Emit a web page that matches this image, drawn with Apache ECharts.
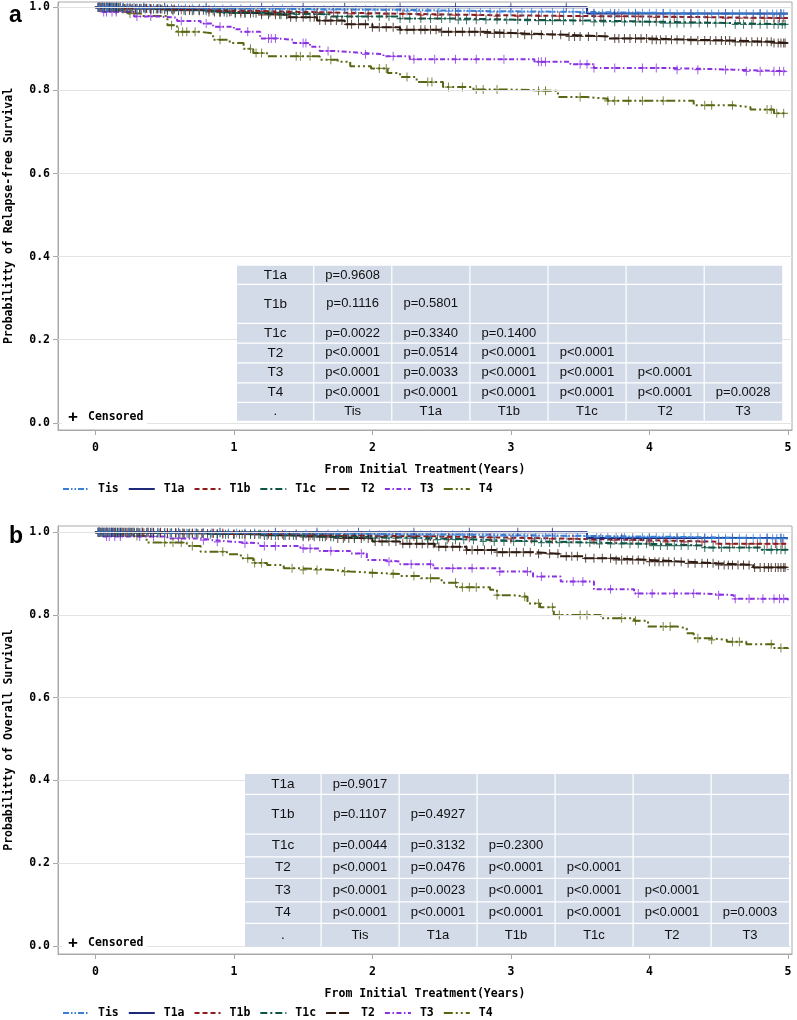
<!DOCTYPE html>
<html><head><meta charset="utf-8">
<script src="https://cdn.jsdelivr.net/npm/echarts@6/dist/echarts.min.js"></script>
<style>html,body{margin:0;padding:0;background:#fff}#c{width:797px;height:1020px}</style>
</head><body><div id="c"></div>
<script>
// ---------- data ----------
const groups = ['Tis','T1a','T1b','T1c','T2','T3','T4'];
const xTicks = [0,1,2,3,4,5];
const yTicks = [0,0.2,0.4,0.6,0.8,1.0];
const xTitle = 'From Initial Treatment(Years)';
const yTitleA = 'Probabilitty of Relapse-free Survival';
const yTitleB = 'Probabilitty of Overall Survival';

// Panel a: relapse-free survival (step times / survival)
const rfsTisT = [0,0.3,0.8,1.5,2.2,2.8,3.5,4.2,5.0];
const rfsTisS = [1,0.998,0.996,0.994,0.991,0.989,0.986,0.984,0.983];
const rfsT1aT = [0,3.55,5.0];
const rfsT1aS = [1,0.985,0.985];
const rfsT1bT = [0,0.2,0.5,0.9,1.3,1.8,2.3,2.9,3.5,4.0,4.5,5.0];
const rfsT1bS = [1,0.997,0.994,0.99,0.987,0.984,0.981,0.979,0.978,0.976,0.974,0.973];
const rfsT1cT = [0,0.2,0.5,0.9,1.3,1.7,2.2,2.6,3.1,3.6,4.1,4.6,5.0];
const rfsT1cS = [1,0.996,0.992,0.987,0.983,0.978,0.973,0.970,0.968,0.965,0.962,0.959,0.957];
const rfsT2T = [0,0.2,0.4,0.6,0.8,1.0,1.2,1.4,1.6,1.8,2.0,2.2,2.5,2.8,3.1,3.4,3.7,4.0,4.3,4.6,4.9,5.0];
const rfsT2S = [1,0.998,0.996,0.993,0.989,0.986,0.982,0.976,0.968,0.959,0.952,0.946,0.941,0.937,0.934,0.930,0.925,0.922,0.920,0.917,0.914,0.914];
const rfsT3T = [0,0.05,0.28,0.45,0.59,0.76,0.85,1.0,1.05,1.19,1.31,1.43,1.55,1.62,1.72,1.89,2.08,2.27,3.17,3.43,3.6,4.13,4.61,5.0];
const rfsT3S = [1,0.989,0.978,0.975,0.967,0.961,0.953,0.947,0.941,0.925,0.922,0.914,0.905,0.895,0.891,0.887,0.882,0.875,0.869,0.863,0.854,0.850,0.846,0.846];
const rfsT4T = [0,0.1,0.23,0.33,0.52,0.59,0.76,0.85,0.97,1.07,1.14,1.24,1.62,1.75,1.84,1.99,2.11,2.2,2.32,2.51,2.73,3.0,3.34,3.55,3.7,4.32,4.61,4.73,4.9,5.0];
const rfsT4S = [1,0.993,0.985,0.979,0.957,0.941,0.937,0.922,0.914,0.90,0.89,0.882,0.874,0.869,0.858,0.853,0.842,0.832,0.82,0.808,0.802,0.799,0.784,0.78,0.775,0.764,0.76,0.754,0.745,0.745];

// Panel a censored times
const rfsTisC = [0.02,0.03,0.05,0.06,0.08,0.09,0.11,0.12,0.14,0.16,0.18,0.2,0.23,0.25,0.28,0.3,0.33,0.36,0.39,0.42,0.46,0.5,0.55,0.6,0.65,0.7,0.75,0.8,0.86,0.92,0.98,1.05,1.12,1.2,1.28,1.35,1.42,1.5,1.58,1.65,1.72,1.8,1.88,1.95,2.02,2.1,2.18,2.25,2.32,2.4,2.48,2.55,2.62,2.7,2.78,2.85,2.92,3.0,3.08,3.15,3.22,3.3,3.38,3.45,3.52,3.6,3.66,3.72,3.78,3.85,3.9,3.95,4.0,4.05,4.1,4.15,4.2,4.25,4.3,4.35,4.4,4.45,4.5,4.55,4.6,4.65,4.7,4.75,4.8,4.85,4.89,4.92,4.95,4.97];
const rfsT1aC = [0.03,0.05,0.08,0.1,0.15,0.2,0.35,0.5,0.8,1.2,1.5,1.8,2.2,2.6,3.0,3.4,3.6,3.75,3.9,4.1,4.3,4.55,4.8,4.95];
const rfsT1bC = [0.02,0.04,0.06,0.08,0.1,0.12,0.15,0.18,0.21,0.25,0.29,0.33,0.37,0.4,0.45,0.5,0.56,0.62,0.68,0.75,0.82,0.9,0.98,1.05,1.12,1.2,1.3,1.4,1.5,1.6,1.72,1.85,1.97,2.1,2.22,2.35,2.47,2.6,2.75,2.9,3.05,3.2,3.35,3.5,3.65,3.8,3.92,4.05,4.18,4.3,4.42,4.55,4.65,4.75,4.83,4.9,4.94,4.97];
const rfsT1cC = [0.02,0.03,0.05,0.07,0.09,0.11,0.13,0.15,0.17,0.2,0.23,0.26,0.29,0.32,0.36,0.4,0.44,0.48,0.52,0.56,0.6,0.65,0.7,0.75,0.8,0.85,0.9,0.95,1.01,1.08,1.14,1.2,1.26,1.33,1.39,1.45,1.52,1.6,1.67,1.75,1.82,1.9,1.97,2.05,2.12,2.2,2.27,2.35,2.42,2.5,2.56,2.62,2.68,2.75,2.82,2.9,2.97,3.05,3.12,3.2,3.25,3.3,3.38,3.45,3.52,3.6,3.67,3.75,3.82,3.9,3.95,4.0,4.05,4.1,4.15,4.2,4.25,4.3,4.36,4.42,4.48,4.55,4.62,4.68,4.74,4.8,4.85,4.9,4.93,4.96,4.98];
const rfsT2C = [0.02,0.03,0.04,0.05,0.065,0.08,0.09,0.1,0.11,0.12,0.135,0.15,0.165,0.18,0.2,0.22,0.235,0.25,0.27,0.3,0.32,0.35,0.37,0.4,0.42,0.45,0.47,0.5,0.52,0.55,0.57,0.6,0.64,0.68,0.71,0.75,0.78,0.82,0.86,0.9,0.93,0.97,1.01,1.05,1.08,1.12,1.16,1.2,1.25,1.3,1.34,1.38,1.41,1.45,1.5,1.55,1.58,1.62,1.66,1.7,1.74,1.78,1.82,1.85,1.9,1.95,2.0,2.05,2.1,2.15,2.2,2.25,2.3,2.35,2.38,2.42,2.46,2.5,2.55,2.6,2.65,2.7,2.74,2.78,2.83,2.88,2.92,2.95,3.0,3.05,3.1,3.15,3.22,3.3,3.36,3.42,3.46,3.5,3.56,3.62,3.68,3.75,3.78,3.82,3.86,3.9,3.94,3.98,4.02,4.05,4.08,4.12,4.16,4.2,4.25,4.3,4.35,4.4,4.44,4.48,4.52,4.55,4.58,4.62,4.66,4.7,4.74,4.78,4.81,4.85,4.88,4.9,4.93,4.95,4.97,4.98];
const rfsT3C = [0.06,0.08,0.12,0.15,0.3,0.4,0.62,0.8,0.9,1.1,1.25,1.27,1.3,1.5,1.52,1.68,1.95,2.15,2.3,2.45,2.6,2.75,2.95,3.2,3.22,3.25,3.5,3.55,3.6,3.75,3.95,4.05,4.2,4.35,4.55,4.7,4.8,4.9,4.94,4.97];
const rfsT4C = [0.15,0.25,0.55,0.6,0.63,0.66,0.72,0.9,1.12,1.16,1.2,1.45,1.48,1.55,1.7,2.05,2.1,2.25,2.4,2.43,2.55,2.65,2.75,2.8,2.9,3.2,3.25,3.5,3.7,3.75,3.85,3.95,4.1,4.4,4.45,4.6,4.85,4.88,4.92,4.97];

// Panel b: overall survival
const osTisT = [0,0.5,1.2,2.0,2.8,3.6,4.4,5.0];
const osTisS = [1,0.998,0.996,0.994,0.991,0.988,0.985,0.984];
const osT1aT = [0,3.55,5.0];
const osT1aS = [1,0.986,0.986];
const osT1bT = [0,0.5,1.0,1.5,2.0,2.5,3.0,3.5,4.0,4.5,5.0];
const osT1bS = [1,0.998,0.995,0.992,0.99,0.987,0.984,0.981,0.977,0.972,0.969];
const osT1cT = [0,0.4,0.8,1.2,1.6,2.0,2.4,2.8,3.2,3.6,4.0,4.4,4.8,5.0];
const osT1cS = [1,0.998,0.995,0.992,0.989,0.986,0.982,0.978,0.975,0.972,0.968,0.963,0.958,0.957];
const osT2T = [0,0.3,0.6,0.9,1.2,1.5,1.72,2.0,2.2,2.45,2.68,2.9,3.16,3.35,3.53,3.75,4.0,4.25,4.49,4.75,5.0];
const osT2S = [1,0.999,0.997,0.995,0.992,0.989,0.985,0.978,0.972,0.965,0.957,0.952,0.948,0.942,0.937,0.933,0.929,0.925,0.921,0.915,0.910];
const osT3T = [0,0.05,0.52,0.76,0.85,1.0,1.19,1.48,1.62,1.84,1.96,2.08,2.2,2.44,2.92,3.16,3.36,3.6,3.89,4.37,4.61,5.0];
const osT3S = [1,0.99,0.985,0.981,0.977,0.973,0.967,0.961,0.955,0.949,0.933,0.929,0.923,0.913,0.905,0.893,0.881,0.862,0.852,0.848,0.839,0.835];
const osT4T = [0,0.1,0.23,0.37,0.66,0.76,0.95,1.05,1.14,1.24,1.36,1.48,1.72,1.84,2.08,2.2,2.35,2.5,2.61,2.85,2.9,3.02,3.12,3.21,3.31,3.65,3.89,3.99,4.2,4.27,4.32,4.44,4.56,4.7,4.9,5.0];
const osT4S = [1,0.995,0.991,0.975,0.967,0.953,0.947,0.937,0.926,0.921,0.913,0.909,0.905,0.901,0.899,0.894,0.889,0.878,0.867,0.861,0.848,0.844,0.828,0.819,0.80,0.792,0.786,0.772,0.768,0.756,0.744,0.74,0.735,0.729,0.72,0.718];

// Panel b censored times
const osTisC = [0.02,0.03,0.05,0.07,0.08,0.1,0.11,0.13,0.15,0.17,0.19,0.21,0.24,0.27,0.3,0.33,0.37,0.41,0.45,0.5,0.55,0.6,0.66,0.72,0.78,0.84,0.9,0.96,1.02,1.08,1.15,1.22,1.3,1.37,1.45,1.52,1.6,1.68,1.75,1.82,1.9,1.98,2.05,2.12,2.2,2.28,2.35,2.42,2.5,2.58,2.65,2.72,2.8,2.88,2.95,3.02,3.1,3.18,3.25,3.32,3.4,3.48,3.55,3.62,3.7,3.76,3.82,3.88,3.95,4.0,4.05,4.1,4.15,4.2,4.25,4.3,4.35,4.4,4.45,4.5,4.55,4.6,4.65,4.7,4.75,4.8,4.85,4.89,4.92,4.95,4.97];
const osT1aC = [0.03,0.05,0.08,0.12,0.18,0.25,0.4,0.6,0.9,1.3,1.6,1.9,2.3,2.7,3.05,3.3,3.65,3.8,4.0,4.2,4.4,4.6,4.85,4.95];
const osT1bC = [0.02,0.03,0.05,0.07,0.09,0.12,0.14,0.17,0.2,0.23,0.27,0.3,0.34,0.38,0.42,0.47,0.52,0.58,0.64,0.7,0.77,0.85,0.92,1.0,1.08,1.15,1.25,1.35,1.45,1.55,1.67,1.8,1.92,2.05,2.17,2.3,2.42,2.55,2.7,2.85,3.0,3.15,3.3,3.45,3.6,3.75,3.88,4.0,4.12,4.25,4.38,4.5,4.6,4.7,4.78,4.85,4.91,4.96];
const osT1cC = [0.02,0.03,0.04,0.06,0.08,0.1,0.12,0.14,0.16,0.19,0.22,0.25,0.28,0.31,0.34,0.38,0.42,0.46,0.5,0.54,0.58,0.63,0.68,0.73,0.78,0.83,0.88,0.94,1.0,1.06,1.12,1.18,1.24,1.3,1.37,1.43,1.5,1.57,1.64,1.72,1.8,1.87,1.94,2.02,2.1,2.17,2.25,2.32,2.4,2.47,2.54,2.6,2.66,2.73,2.8,2.88,2.95,3.02,3.1,3.17,3.22,3.28,3.35,3.42,3.5,3.57,3.64,3.72,3.8,3.86,3.92,3.98,4.03,4.08,4.13,4.18,4.23,4.28,4.34,4.4,4.46,4.52,4.58,4.65,4.72,4.78,4.83,4.88,4.92,4.95,4.98];
const osT2C = [0.02,0.03,0.04,0.055,0.07,0.085,0.1,0.115,0.13,0.145,0.16,0.18,0.2,0.22,0.24,0.26,0.28,0.3,0.32,0.35,0.37,0.4,0.42,0.45,0.47,0.5,0.52,0.55,0.58,0.61,0.64,0.67,0.7,0.74,0.77,0.81,0.85,0.88,0.92,0.96,1.0,1.04,1.08,1.12,1.15,1.19,1.22,1.27,1.32,1.36,1.4,1.45,1.5,1.54,1.58,1.62,1.66,1.7,1.75,1.79,1.83,1.87,1.92,1.97,2.02,2.07,2.12,2.17,2.22,2.27,2.32,2.36,2.4,2.44,2.48,2.53,2.58,2.63,2.68,2.72,2.76,2.81,2.86,2.9,2.94,2.99,3.04,3.09,3.14,3.2,3.28,3.34,3.4,3.44,3.48,3.54,3.6,3.66,3.72,3.76,3.8,3.84,3.88,3.92,3.96,4.0,4.04,4.07,4.1,4.14,4.18,4.23,4.28,4.33,4.38,4.42,4.46,4.5,4.54,4.57,4.6,4.64,4.68,4.72,4.76,4.8,4.83,4.86,4.88,4.91,4.93,4.95,4.97,4.98];
const osT3C = [0.08,0.1,0.14,0.18,0.32,0.42,0.6,0.78,0.88,1.08,1.22,1.3,1.5,1.55,1.7,1.92,2.12,2.28,2.42,2.58,2.72,2.92,3.12,3.22,3.45,3.52,3.72,3.92,4.02,4.18,4.32,4.5,4.62,4.72,4.82,4.9,4.94,4.97];
const osT4C = [0.18,0.3,0.5,0.56,0.62,0.7,0.92,1.1,1.15,1.2,1.42,1.5,1.6,1.8,2.0,2.15,2.3,2.42,2.6,2.65,2.7,2.75,2.9,3.1,3.2,3.3,3.35,3.5,3.55,3.8,3.9,4.1,4.15,4.35,4.45,4.6,4.65,4.88,4.95];

// pairwise log-rank p-value tables
const tableRows = ['T1a','T1b','T1c','T2','T3','T4','.'];
const tableCols = ['Tis','T1a','T1b','T1c','T2','T3'];
const pA_T1a = ['p=0.9608'];
const pA_T1b = ['p=0.1116','p=0.5801'];
const pA_T1c = ['p=0.0022','p=0.3340','p=0.1400'];
const pA_T2  = ['p<0.0001','p=0.0514','p<0.0001','p<0.0001'];
const pA_T3  = ['p<0.0001','p=0.0033','p<0.0001','p<0.0001','p<0.0001'];
const pA_T4  = ['p<0.0001','p<0.0001','p<0.0001','p<0.0001','p<0.0001','p=0.0028'];
const pB_T1a = ['p=0.9017'];
const pB_T1b = ['p=0.1107','p=0.4927'];
const pB_T1c = ['p=0.0044','p=0.3132','p=0.2300'];
const pB_T2  = ['p<0.0001','p=0.0476','p<0.0001','p<0.0001'];
const pB_T3  = ['p<0.0001','p=0.0023','p<0.0001','p<0.0001','p<0.0001'];
const pB_T4  = ['p<0.0001','p<0.0001','p<0.0001','p<0.0001','p<0.0001','p=0.0003'];

// ---------- styling ----------
const colors = {Tis:'#3a7fd6',T1a:'#1c2a78',T1b:'#8e1c1c',T1c:'#0e5444',T2:'#2e1a10',T3:'#8a32e0',T4:'#5a6612'};
const dashes = {Tis:[6,2,1.5,2,1.5,2],T1a:'solid',T1b:[5,3],T1c:[7,3,2,3],T2:[10,3],T3:[5,2.5,1.5,2.5],T4:[9,3,2,3,2,3]};
const MONO = '"DejaVu Sans Mono", monospace';
const SANS = '"Liberation Sans", Arial, sans-serif';
const FW = 'bold';
const PLUS = 'path://M-0.14,-1H0.14V-0.14H1V0.14H0.14V1H-0.14V0.14H-1V-0.14H-0.14Z';

function stepAt(ts, ss, t){ let v = ss[0]; for (let i=0;i<ts.length;i++){ if (ts[i] <= t) v = ss[i]; else break; } return v; }

const panels = [
  {curves:{Tis:[rfsTisT,rfsTisS],T1a:[rfsT1aT,rfsT1aS],T1b:[rfsT1bT,rfsT1bS],T1c:[rfsT1cT,rfsT1cS],T2:[rfsT2T,rfsT2S],T3:[rfsT3T,rfsT3S],T4:[rfsT4T,rfsT4S]},
   cens:{Tis:rfsTisC,T1a:rfsT1aC,T1b:rfsT1bC,T1c:rfsT1cC,T2:rfsT2C,T3:rfsT3C,T4:rfsT4C},
   p:[pA_T1a,pA_T1b,pA_T1c,pA_T2,pA_T3,pA_T4], yTitle:yTitleA,
   top:2, height:428, ymin:-0.0173, ymax:1.0128, letter:'a', letterY:4,
   tblX:237, tblW0:76.6, tblW:78.1, rowsY:[265.7,284.3,323.3,343,362.7,382.7,402.3,420.7], censY:408, legTop:483},
  {curves:{Tis:[osTisT,osTisS],T1a:[osT1aT,osT1aS],T1b:[osT1bT,osT1bS],T1c:[osT1cT,osT1cS],T2:[osT2T,osT2S],T3:[osT3T,osT3S],T4:[osT4T,osT4S]},
   cens:{Tis:osTisC,T1a:osT1aC,T1b:osT1bC,T1c:osT1cC,T2:osT2C,T3:osT3C,T4:osT4C},
   p:[pB_T1a,pB_T1b,pB_T1c,pB_T2,pB_T3,pB_T4], yTitle:yTitleB,
   top:526, height:428, ymin:-0.0198, ymax:1.0152, letter:'b', letterY:525,
   tblX:245, tblW0:76, tblW:78, rowsY:[774,794.3,834,856.7,878.3,901.7,923.3,946.7], censY:934, legTop:1007}
];

const grids=[], xAxes=[], yAxes=[], series=[], legends=[], graphics=[];
panels.forEach((P, gi) => {
  grids.push({left:58, top:P.top, width:734, height:P.height, show:true, borderColor:'#a8a8a8', borderWidth:1, containLabel:false, outerBoundsMode:'none'});
  xAxes.push({type:'value', gridIndex:gi, min:-0.27, max:5.03,
    name:xTitle, nameLocation:'middle', nameGap:34, nameTextStyle:{fontFamily:MONO, fontSize:11.5, fontWeight:FW, color:'#000'},
    axisLine:{show:true, onZero:false, lineStyle:{color:'#a8a8a8'}},
    axisTick:{show:true, length:5, customValues:xTicks, lineStyle:{color:'#a8a8a8'}},
    axisLabel:{customValues:xTicks, margin:12, fontFamily:MONO, fontSize:11.5, fontWeight:FW, color:'#000'},
    splitLine:{show:false}});
  yAxes.push({type:'value', gridIndex:gi, min:P.ymin, max:P.ymax,
    name:P.yTitle, nameLocation:'middle', nameGap:43, nameTextStyle:{fontFamily:MONO, fontSize:11.5, fontWeight:FW, color:'#000'},
    axisLine:{show:true, onZero:false, lineStyle:{color:'#a8a8a8'}},
    axisTick:{show:true, length:5, customValues:yTicks, lineStyle:{color:'#a8a8a8'}},
    axisLabel:{customValues:yTicks, margin:8, formatter:v=>v.toFixed(1), fontFamily:MONO, fontSize:11.5, fontWeight:FW, color:'#000'},
    splitLine:{show:false}});
  // reference grid lines at the y ticks
  series.push({type:'line', name:'grid'+gi, xAxisIndex:gi, yAxisIndex:gi, data:[[0,1]], symbol:'none', lineStyle:{opacity:0}, silent:true, z:1,
    markLine:{silent:true, symbol:['none','none'], label:{show:false}, animation:false,
      lineStyle:{color:'#e3e3e3', type:'solid', width:1}, data:yTicks.map(v=>({yAxis:v}))}});
  groups.slice().reverse().forEach(g => {
    const [ts, ss] = P.curves[g];
    series.push({name:g, type:'line', step:'end', xAxisIndex:gi, yAxisIndex:gi,
      data:ts.map((t,i)=>[t, ss[i]]), symbol:'none', z:3,
      lineStyle:{color:colors[g], width:2, type:dashes[g]}, itemStyle:{color:colors[g]}});
    series.push({name:g+' censored', type:'scatter', xAxisIndex:gi, yAxisIndex:gi,
      data:P.cens[g].map(t=>[t, stepAt(ts, ss, t)]), symbol:PLUS, symbolSize:[7,9], z:4,
      itemStyle:{color:colors[g]}});
  });
  legends.push({data:groups, left:62, top:P.legTop, padding:0, itemWidth:26, itemHeight:10, itemGap:9,
    itemStyle:{opacity:0},
    textStyle:{fontFamily:MONO, fontSize:11.5, fontWeight:FW, color:'#000', padding:[0,0,0,4]}, selectedMode:false});
  // panel letter
  graphics.push({type:'text', left:9, top:P.letterY, z:100, style:{text:P.letter, font:'bold 23px '+SANS, fill:'#000'}});
  // censored legend box
  graphics.push({type:'rect', shape:{x:62, y:P.censY, width:85, height:18}, z:90, style:{fill:'#fff'}});
  graphics.push({type:'text', x:68, y:P.censY+9, z:100, style:{text:'+', font:'bold 17px '+SANS, fill:'#000', verticalAlign:'middle'}});
  graphics.push({type:'text', x:88, y:P.censY+9, z:100, style:{text:'Censored', font:FW+' 11.5px '+MONO, fill:'#000', verticalAlign:'middle'}});
  // p-value table
  const x0 = P.tblX, ry = P.rowsY;
  const colX = [x0, x0+P.tblW0]; for (let c=1;c<7;c++) colX.push(colX[c]+P.tblW);
  graphics.push({type:'rect', shape:{x:x0, y:ry[0], width:colX[7]-x0, height:ry[7]-ry[0]}, z:95, style:{fill:'#d3dae8'}});
  for (let r=1;r<7;r++) graphics.push({type:'rect', shape:{x:x0, y:ry[r]-0.5, width:colX[7]-x0, height:1.2}, z:96, style:{fill:'#fff'}});
  for (let c=1;c<7;c++) graphics.push({type:'rect', shape:{x:colX[c]-0.5, y:ry[0], width:1.2, height:ry[7]-ry[0]}, z:96, style:{fill:'#fff'}});
  tableRows.forEach((lab, r) => {
    const cy = (ry[r]+ry[r+1])/2;
    graphics.push({type:'text', x:(colX[0]+colX[1])/2, y:cy, z:100, style:{text:lab, font:'13.5px '+SANS, fill:'#111', align:'center', verticalAlign:'middle'}});
    const cells = r < 6 ? P.p[r] : tableCols;
    cells.forEach((txt, c) => {
      graphics.push({type:'text', x:(colX[c+1]+colX[c+2])/2, y:cy, z:100, style:{text:txt, font:'13px '+SANS, fill:'#111', align:'center', verticalAlign:'middle'}});
    });
  });
});

const chart = echarts.init(document.getElementById('c'), null, {renderer:'canvas'});
chart.setOption({animation:false, backgroundColor:'#fff', grid:grids, xAxis:xAxes, yAxis:yAxes, legend:legends, series:series, graphic:graphics});
</script></body></html>
